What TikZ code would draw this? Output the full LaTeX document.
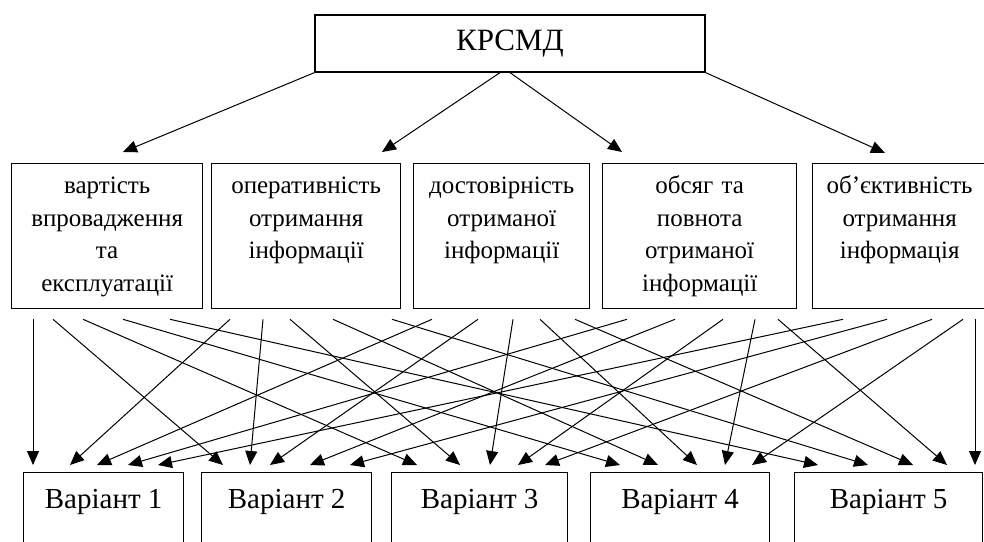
\documentclass[tikz,border=0pt]{standalone}
\usepackage{fontspec}
\setmainfont{Liberation Serif}
\usetikzlibrary{calc,arrows.meta}
\begin{document}
\begin{tikzpicture}[x=1pt,y=-1pt,
  boxline/.style={draw=black,line width=1.3pt},
  topbox/.style={boxline,minimum width=390pt,minimum height=57pt,inner sep=0pt,font=\fontsize{31}{34}\selectfont},
  midbox/.style={boxline,anchor=north west,inner xsep=0pt,inner ysep=0pt,text width=#1,align=center,
     text height=30pt,text depth=115pt,font=\fontsize{25}{32.5}\selectfont},
  varbox/.style={boxline,anchor=north west,minimum width=#1,inner ysep=0pt,
     text height=36pt,text depth=60pt,font=\fontsize{29}{32}\selectfont},
  arr/.style={draw=black,line width=1pt,-{Triangle[length=14pt,width=12pt]}}]
\useasboundingbox (0,0) rectangle (984,541);
\clip (0,0) rectangle (984,541);
\node[topbox] (top) at (510,43.5) {КРСМД};
\node[midbox=191pt] (m1) at (11,163) {вартість\\впровадження\\та\\експлуатації};
\node[midbox=189pt] (m2) at (211,163) {оперативність\\отримання\\інформації};
\node[midbox=176pt] (m3) at (413,163) {достовірність\\отриманої\\інформації};
\node[midbox=194pt] (m4) at (602,163) {обсяг та\\повнота\\отриманої\\інформації};
\node[midbox=174pt] (m5) at (812,163) {об’єктивність\\отримання\\інформація};
\node[varbox=160pt] (v1) at (23,472) {Варіант 1};
\node[varbox=170pt] (v2) at (201,472) {Варіант 2};
\node[varbox=176pt] (v3) at (391,472) {Варіант 3};
\node[varbox=179pt] (v4) at (590,472) {Варіант 4};
\node[varbox=188pt] (v5) at (794,472) {Варіант 5};
% top arrows
\draw[arr] (top.south west) -- ($(m1.north west)+(112,-11)$);
\draw[arr] ($(top.south)+(-10,0)$) -- ($(m2.north west)+(171,-11)$);
\draw[arr] (top.south) -- ($(m4.north west)+(20,-11)$);
\draw[arr] (top.south east) -- ($(m5.north west)+(73,-10)$);
% cross arrows: box i -> variant j, start offset a, end offset b
\foreach \i/\j/\a/\b in {
  1/1/22/10, 1/2/42/22, 1/3/72/26, 1/4/112/30, 1/5/159/24,
  2/1/19/47, 2/2/52/49, 2/3/79/69, 2/4/122/68, 2/5/181/74,
  3/1/19/74, 3/2/65/69, 3/3/100/99, 3/4/127/107, 3/5/162/119,
  4/1/25/105, 4/2/73/109, 4/3/121/127, 4/4/153/135, 4/5/176/153,
  5/1/31/135, 5/2/75/149, 5/3/120/154, 5/4/151/162, 5/5/163/181}
  \draw[arr] ($(m\i.south west)+(\a,10)$) -- ($(v\j.north west)+(\b,-7)$);
\end{tikzpicture}
\end{document}
